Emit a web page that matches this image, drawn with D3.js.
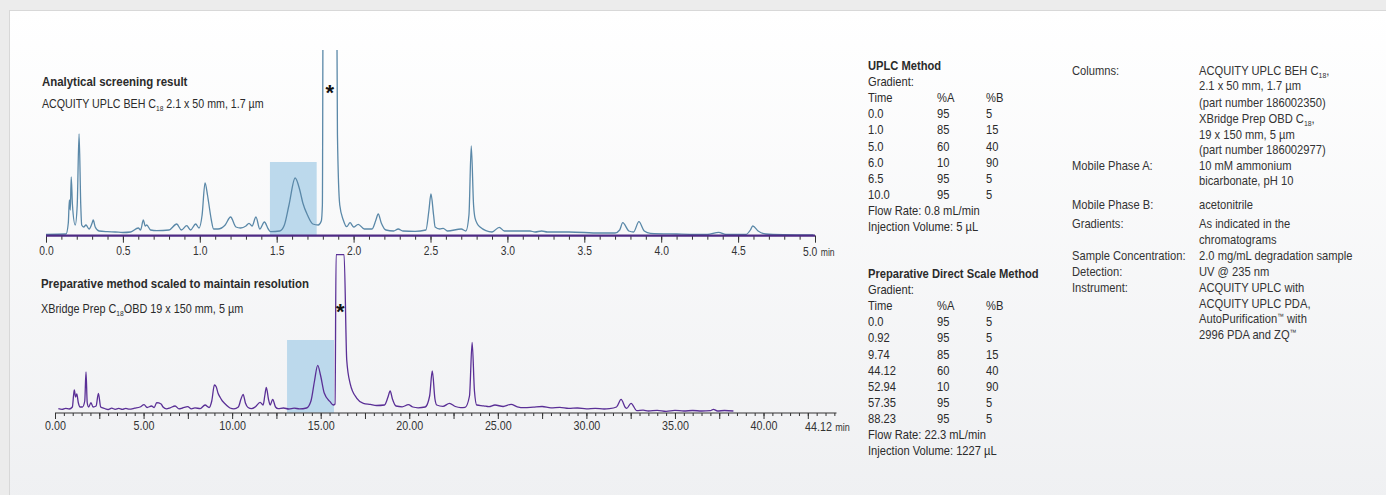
<!DOCTYPE html>
<html>
<head>
<meta charset="utf-8">
<script src="https://cdn.jsdelivr.net/npm/d3@7/dist/d3.min.js"></script>
<style>
  html, body { margin: 0; padding: 0; background: #ececec; }
  svg { display: block; font-family: "Liberation Sans", Arial, sans-serif; }
</style>
</head>
<body>
<svg id="chart" width="1386" height="495"></svg>
<script>
// ---------------- DATA ----------------
// Analytical (UPLC) chromatogram: [time (min), absorbance (arb. units)]
const topTrace = [
  [0.00,0.7],[0.13,1],[0.145,12],[0.152,35],[0.158,25],[0.164,58],[0.172,30],[0.190,10],[0.203,30],
  [0.215,101],[0.226,30],[0.232,10],[0.245,8],[0.26,10],[0.28,6],[0.30,12],[0.307,15],[0.32,8],
  [0.345,4],[0.40,3.3],[0.45,3],[0.50,2.5],[0.55,3],[0.60,7],[0.615,5],[0.633,15],[0.645,9],
  [0.655,10],[0.68,5],[0.72,4.3],[0.80,5],[0.85,11],[0.88,5],[0.915,9.3],[0.94,5],[0.973,11],
  [0.995,7],[1.015,20],[1.034,52],[1.05,40],[1.057,33],[1.075,15],[1.09,6],[1.118,6],[1.165,10],
  [1.20,18],[1.235,8],[1.265,7],[1.30,9],[1.32,11.7],[1.34,9],[1.365,18],[1.39,6],[1.42,13],
  [1.445,6],[1.46,3.3],[1.52,4],[1.55,10],[1.58,30],[1.62,57],[1.65,45],[1.67,32],[1.70,20],
  [1.735,11],[1.77,10],[1.79,14],[1.797,30],[1.803,300],[1.888,300],[1.895,100],[1.91,30],
  [1.933,15],[1.955,8.3],[1.977,12.3],[2.0,8],[2.03,10.7],[2.07,6],[2.12,6],[2.145,15],[2.16,21],
  [2.18,12],[2.21,5],[2.26,4],[2.29,6],[2.32,4],[2.40,3.7],[2.47,5],[2.49,25],[2.503,41],[2.52,20],
  [2.53,8],[2.56,6],[2.583,6.7],[2.61,4],[2.70,6],[2.73,4],[2.75,20],[2.765,89],[2.78,30],
  [2.79,16.7],[2.82,8.3],[2.90,3],[2.947,7.7],[2.98,4],[3.05,4],[3.147,4],[3.18,3],[3.223,4],
  [3.26,3],[3.4,3],[3.6,2],[3.70,2],[3.73,5],[3.75,12.3],[3.79,4],[3.82,3],[3.855,13.3],[3.89,4],
  [3.93,1.7],[4.1,1],[4.3,0.5],[4.374,2.7],[4.42,0.5],[4.55,0.5],[4.58,5],[4.595,9],[4.63,4],
  [4.68,1],[4.8,0.3],[4.99,0]
];
// Preparative chromatogram: [time (min), absorbance (arb. units)]
const prepTrace = [
  [0.19,2.3],[0.4,1.6],[0.6,2.6],[0.8,2.0],[0.98,4],[1.05,16],[1.09,21],[1.16,14],[1.23,17],[1.32,8],
  [1.42,4],[1.55,4],[1.68,10],[1.75,39],[1.82,8],[1.9,4],[2.03,8.3],[2.15,4],[2.32,5],[2.45,17.7],
  [2.58,4],[2.8,2.5],[3.0,1.5],[3.2,2.8],[3.4,1.7],[3.6,2.6],[3.8,1.6],[4.0,2.6],[4.2,1.8],
  [4.5,2.8],[4.8,4],[5.03,6.3],[5.2,3.5],[5.45,5],[5.6,3.5],[5.74,8.3],[5.99,7],[6.1,4],[6.3,2.2],
  [6.5,3.2],[6.78,5],[7.0,2.2],[7.2,3.0],[7.49,4.3],[7.7,2.2],[7.9,3.1],[8.2,2.4],[8.47,6],
  [8.7,3.5],[8.85,10],[9.0,26],[9.1,24.3],[9.2,18],[9.32,13.7],[9.45,10],[9.54,8.3],
  [9.8,4],[9.88,3],[10.1,2.2],[10.35,4],[10.5,12],[10.62,16.7],[10.75,8],[10.9,3.5],[11.1,2.4],
  [11.3,4],[11.58,8.7],[11.75,6],[11.85,16],[11.93,23.7],[12.05,12],[12.15,6],[12.29,11.7],
  [12.45,4],[12.6,2.3],[12.9,3.0],[13.2,2.0],[13.5,2.9],[13.8,2.1],[14.2,3],[14.45,10],[14.65,30],
  [14.83,45.7],[15.0,35],[15.2,18],[15.53,9.3],[15.71,6],[15.81,7],[15.87,156.3],[16.32,156.3],
  [16.47,51],[16.66,27.7],[17.04,12.7],[17.41,7.7],[17.8,6.6],[18.16,5.5],[18.6,6],[18.8,14],
  [18.92,20],[19.05,12],[19.25,5],[19.6,4.2],[19.95,6.3],[20.2,4],[20.5,3.2],[20.9,4],[21.15,15],
  [21.3,40],[21.45,12],[21.55,6],[21.9,4.6],[22.27,7.7],[22.6,4.5],[22.9,3.4],[23.15,3.7],[23.4,15],
  [23.55,68.7],[23.68,20],[23.81,6],[24.2,5.2],[24.5,4.3],[24.84,6],[25.3,4.5],[25.75,6.7],[26.1,4.2],
  [26.5,3.3],[27.0,3.9],[27.5,4.5],[28.0,3.2],[28.5,3.6],[29.0,2.6],[29.5,3.0],[30.0,2.2],[30.5,2.6],
  [31.0,2.0],[31.3,2.3],[31.7,4],[31.96,11.7],[32.2,3.5],[32.28,2.7],[32.52,7.7],[32.85,0.3],
  [33.2,0.8],[33.5,0],[34.0,0.7],[34.5,-0.3],[35.0,0.6],[35.5,0],[36.0,0.5],[36.5,0],[37.0,0.3],
  [37.17,1.7],[37.4,0],[37.8,0.5],[38.3,0]
];
// Collected fraction windows: [start, end, height]
const topFraction = [1.456, 1.76, 73];
const prepFraction = [13.1, 15.75, 71];
const peakOfInterestTop = [1.845, 185];
const peakOfInterestPrep = [16.1, 156.3];

// Axis tick labels
const topTickLabels = [0.0, 0.5, 1.0, 1.5, 2.0, 2.5, 3.0, 3.5, 4.0, 4.5];
const topAxisEnd = "5.0";
const prepTickLabels = [0, 5, 10, 15, 20, 25, 30, 35, 40];
const prepAxisEnd = "44.12";

// Titles
const topTitle = "Analytical screening result";
const topSubtitle = "ACQUITY UPLC BEH C_{18} 2.1 x 50 mm, 1.7 µm";
const prepTitle = "Preparative method scaled to maintain resolution";
const prepSubtitle = "XBridge Prep C_{18}OBD 19 x 150 mm, 5 µm";

// Method tables
const uplcTitle = "UPLC Method";
const uplcGradient = [["0.0","95","5"],["1.0","85","15"],["5.0","60","40"],["6.0","10","90"],["6.5","95","5"],["10.0","95","5"]];
const uplcFooter = ["Flow Rate: 0.8 mL/min", "Injection Volume: 5 µL"];
const prepTitleRight = "Preparative Direct Scale Method";
const prepGradient = [["0.0","95","5"],["0.92","95","5"],["9.74","85","15"],["44.12","60","40"],["52.94","10","90"],["57.35","95","5"],["88.23","95","5"]];
const prepFooter = ["Flow Rate: 22.3 mL/min", "Injection Volume: 1227 µL"];
const gradientHeader = ["Time","%A","%B"];

// Conditions: [label, lines]
const conditions = [
  ["Columns:", ["ACQUITY UPLC BEH C_{18},", "2.1 x 50 mm, 1.7 µm", "(part number 186002350)", "XBridge Prep OBD C_{18},", "19 x 150 mm, 5 µm", "(part number 186002977)"]],
  ["Mobile Phase A:", ["10 mM ammonium", "bicarbonate, pH 10"]],
  ["Mobile Phase B:", ["acetonitrile"]],
  ["Gradients:", ["As indicated in the", "chromatograms"]],
  ["Sample Concentration:", ["2.0 mg/mL degradation sample"]],
  ["Detection:", ["UV @ 235 nm"]],
  ["Instrument:", ["ACQUITY UPLC with", "ACQUITY UPLC PDA,", "AutoPurification^{™} with", "2996 PDA and ZQ^{™}"]]
];
const conditionLineY = [
  [74.5, 89.5, 107, 123, 138.5, 154],
  [169.5, 185],
  [208.5],
  [228, 243.5],
  [259.5],
  [276],
  [292, 307.5, 323, 338.5]
];

// ---------------- DRAW ----------------
const svg = d3.select("#chart");
const W = 1386, H = 495;
const TEXT = "#2b2b2b";
const SX = 0.86;   // condensed type

const defs = svg.append("defs");
const grad = defs.append("linearGradient").attr("id","panelGrad").attr("x1",0).attr("y1",0).attr("x2",0).attr("y2",1);
grad.append("stop").attr("offset","0%").attr("stop-color","#ffffff");
grad.append("stop").attr("offset","100%").attr("stop-color","#eff0f2");

svg.append("rect").attr("x",0).attr("y",0).attr("width",W).attr("height",H).attr("fill","#ececec");
svg.append("rect").attr("x",9.5).attr("y",10.5).attr("width",W).attr("height",H)
  .attr("fill","url(#panelGrad)").attr("stroke","#d8d8d8").attr("stroke-width",1);

// rich text helper: _{sub}, ^{sup}
function rich(sel, str, size) {
  const re = /(_\{[^}]*\}|\^\{[^}]*\})/;
  const parts = str.split(re).filter(p => p.length);
  let shift = 0;
  parts.forEach(p => {
    if (p.startsWith("_{")) {
      sel.append("tspan").attr("dy", 3 - shift).attr("font-size", size*0.62).text(p.slice(2,-1));
      shift = 3;
    } else if (p.startsWith("^{")) {
      sel.append("tspan").attr("dy", -4 - shift).attr("font-size", size*0.6).text(p.slice(2,-1));
      shift = -4;
    } else {
      sel.append("tspan").attr("dy", -shift).text(p);
      shift = 0;
    }
  });
  return sel;
}
function txt(x, y, str, opts = {}) {
  const size = opts.size || 13;
  const t = svg.append("text").attr("x", 0).attr("y", 0)
    .attr("transform", `translate(${x},${y}) scale(${SX},1)`)
    .attr("font-size", size).attr("fill", opts.fill || TEXT)
    .attr("font-weight", opts.bold ? "bold" : "normal")
    .attr("text-anchor", opts.anchor || "start");
  rich(t, str, size);
  return t;
}

// ---- Top (analytical) chart ----
const xTop = d3.scaleLinear().domain([0,5]).range([46,815]);
const yTop = d3.scaleLinear().domain([0,185]).range([235,50]);

defs.append("clipPath").attr("id","clipTop").append("rect")
  .attr("x",40).attr("y",50).attr("width",790).attr("height",190);

svg.append("rect")
  .attr("x", xTop(topFraction[0])).attr("y", yTop(topFraction[2]))
  .attr("width", xTop(topFraction[1]) - xTop(topFraction[0]))
  .attr("height", yTop(0) - yTop(topFraction[2]))
  .attr("fill","#bcd9ec");

const lineTop = d3.line().x(d => xTop(d[0])).y(d => yTop(d[1])).curve(d3.curveMonotoneX);
svg.append("path").datum(topTrace).attr("d", lineTop)
  .attr("clip-path","url(#clipTop)")
  .attr("fill","none").attr("stroke","#5a88a8").attr("stroke-width",1.3).attr("stroke-linejoin","round");

const topAxisY = 235.7;
const gTopMinor = svg.append("g").attr("transform",`translate(0,${topAxisY})`)
  .call(d3.axisBottom(xTop).tickValues(d3.range(0,5.001,0.1)).tickSize(4).tickFormat(""));
const gTopMajor = svg.append("g").attr("transform",`translate(0,${topAxisY})`)
  .call(d3.axisBottom(xTop).tickValues(topTickLabels.concat([5])).tickSize(7).tickPadding(4)
    .tickFormat(d => d === 5 ? "" : d3.format(".1f")(d)));
[gTopMinor, gTopMajor].forEach(g => {
  g.select(".domain").remove();
  g.selectAll(".tick line").attr("stroke","#333").attr("stroke-width",1);
  g.selectAll(".tick text").attr("font-family",null).attr("font-size",12).attr("fill","#333")
    .attr("transform", `scale(${SX},1)`);
});
svg.append("line").attr("x1", xTop(0)).attr("x2", xTop(5)).attr("y1", topAxisY).attr("y2", topAxisY)
  .attr("stroke","#4e2a84").attr("stroke-width",2.2);
{
  const t = svg.append("text").attr("transform", `translate(803,255.5) scale(${SX},1)`)
    .attr("font-size",12).attr("fill","#333");
  t.append("tspan").text(topAxisEnd);
  t.append("tspan").attr("dx",4).attr("font-size",10).text("min");
}

txt(42, 86, topTitle, {bold:true, size:13.3});
txt(42, 108, topSubtitle, {size:12.4});
svg.append("text").attr("x", xTop(peakOfInterestTop[0])).attr("y", 100)
  .attr("text-anchor","middle").attr("font-size",22).attr("font-weight","bold").attr("fill","#111")
  .text("*");

// ---- Bottom (preparative) chart ----
const xPrep = d3.scaleLinear().domain([0,44.12]).range([55,836.5]);
const yPrep = d3.scaleLinear().domain([0,160]).range([411,251]);

svg.append("rect")
  .attr("x", xPrep(prepFraction[0])).attr("y", yPrep(prepFraction[2]))
  .attr("width", xPrep(prepFraction[1]) - xPrep(prepFraction[0]))
  .attr("height", yPrep(-1.7) - yPrep(prepFraction[2]))
  .attr("fill","#bcd9ec");

const linePrep = d3.line().x(d => xPrep(d[0])).y(d => yPrep(d[1])).curve(d3.curveMonotoneX);
svg.append("path").datum(prepTrace).attr("d", linePrep)
  .attr("fill","none").attr("stroke","#5a2f96").attr("stroke-width",1.3).attr("stroke-linejoin","round");

const prepAxisY = 413;
const gPrepMinor = svg.append("g").attr("transform",`translate(0,${prepAxisY})`)
  .call(d3.axisBottom(xPrep).tickValues(d3.range(0,44.01,0.5)).tickSize(3).tickFormat(""));
const gPrepMajor = svg.append("g").attr("transform",`translate(0,${prepAxisY})`)
  .call(d3.axisBottom(xPrep).tickValues(d3.range(0,42.51,2.5)).tickSize(6).tickPadding(2.5)
    .tickFormat(d => prepTickLabels.includes(d) ? d3.format(".2f")(d) : ""));
[gPrepMinor, gPrepMajor].forEach(g => {
  g.select(".domain").remove();
  g.selectAll(".tick line").attr("stroke","#333").attr("stroke-width",1);
  g.selectAll(".tick text").attr("font-family",null).attr("font-size",12.5).attr("fill","#333")
    .attr("transform", `scale(${SX},1)`);
});
svg.append("line").attr("x1", xPrep(0)).attr("x2", xPrep(44.12)).attr("y1", prepAxisY).attr("y2", prepAxisY)
  .attr("stroke","#333").attr("stroke-width",1.2);
{
  const t = svg.append("text").attr("transform", `translate(805,430.5) scale(${SX},1)`)
    .attr("font-size",12.5).attr("fill","#333");
  t.append("tspan").text(prepAxisEnd);
  t.append("tspan").attr("dx",4).attr("font-size",10.5).text("min");
}

txt(41, 288, prepTitle, {bold:true, size:13.3});
txt(41, 313, prepSubtitle, {size:12.6});
svg.append("text").attr("x", xPrep(peakOfInterestPrep[0])).attr("y", 319)
  .attr("text-anchor","middle").attr("font-size",22).attr("font-weight","bold").attr("fill","#111")
  .text("*");

// ---- Method tables ----
const colX = [868, 937, 986];
function methodBlock(y0, title, rows, footer) {
  const step = 16.1;
  txt(colX[0], y0, title, {bold:true, size:13});
  txt(colX[0], y0 + step, "Gradient:");
  gradientHeader.forEach((h,i) => txt(colX[i], y0 + 2*step, h));
  rows.forEach((r,j) => r.forEach((c,i) => txt(colX[i], y0 + (3+j)*step, c)));
  footer.forEach((f,k) => txt(colX[0], y0 + (3 + rows.length + k)*step, f));
}
methodBlock(70, uplcTitle, uplcGradient, uplcFooter);
methodBlock(278, prepTitleRight, prepGradient, prepFooter);

// ---- Conditions ----
conditions.forEach((c, i) => {
  txt(1072, conditionLineY[i][0], c[0], {fill:"#333"});
  c[1].forEach((line, k) => txt(1199, conditionLineY[i][k], line, {fill:"#333"}));
});
</script>
</body>
</html>
